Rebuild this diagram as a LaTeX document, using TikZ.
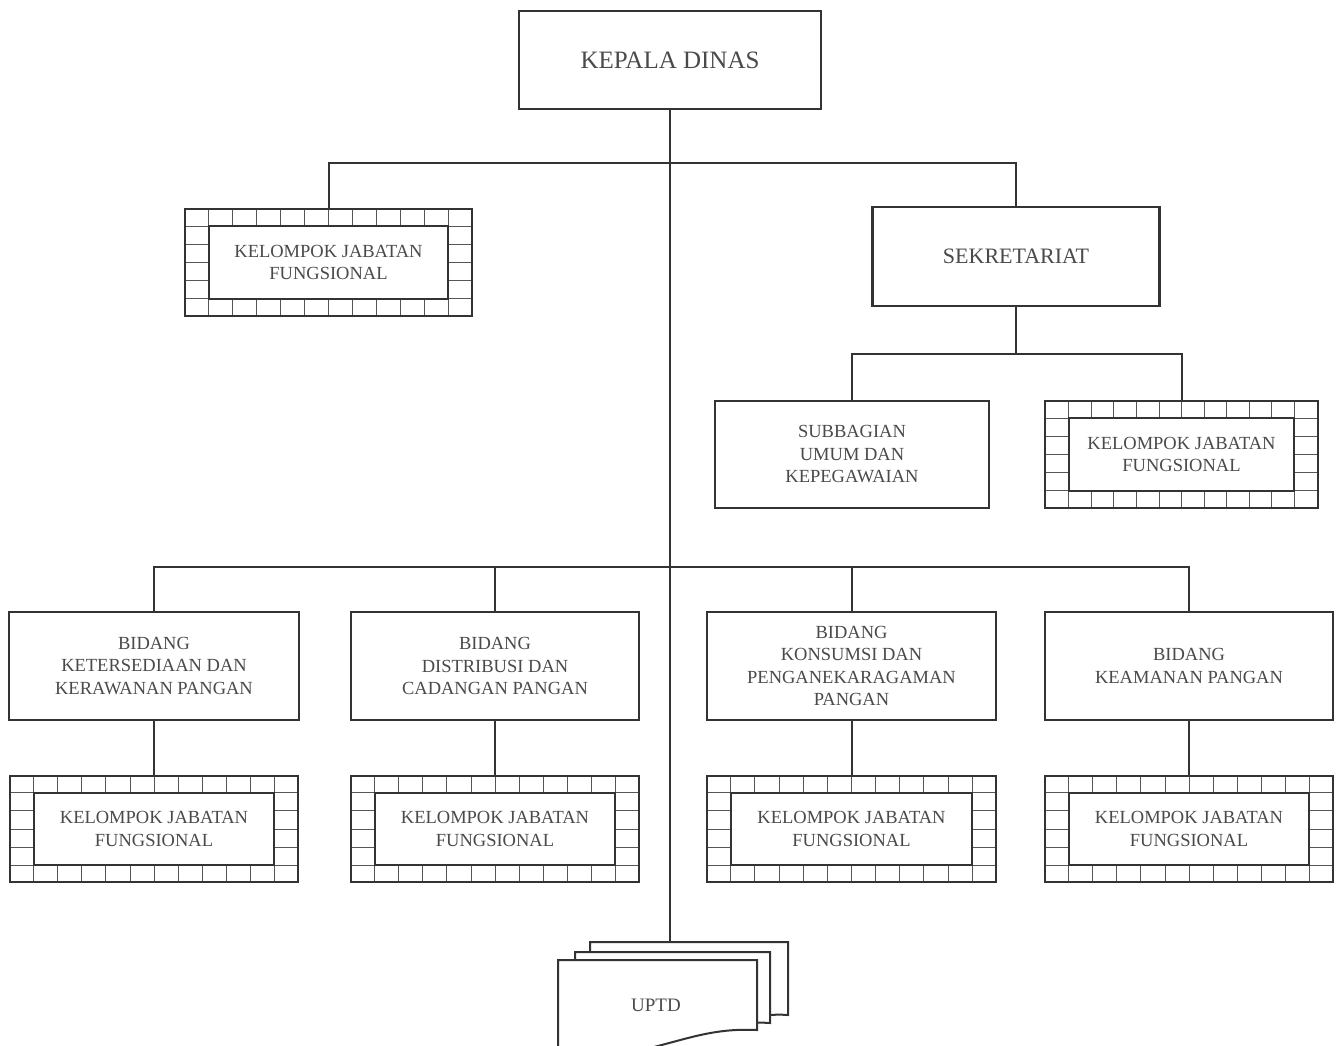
\documentclass[tikz,border=0pt]{standalone}
\usepackage{fontspec}
\setmainfont{Liberation Serif}
\usetikzlibrary{calc}
\definecolor{linec}{HTML}{333333}
\definecolor{textc}{HTML}{4A4A4A}
\definecolor{cellc}{HTML}{555555}
\tikzset{
  box/.style={draw=linec, line width=2.2pt, fill=white, text=textc, align=center, inner sep=0pt,
    font=\fontsize{18.5}{22.5}\selectfont},
  outerbox/.style={fill=white, inner sep=0pt, minimum height=106pt},
  innerbox/.style={fill=white, text=textc, align=center, inner sep=0pt,
    minimum height=72pt, font=\fontsize{18.5}{22.5}\selectfont},
  cell/.style={draw=cellc, line width=0.9pt},
  frame/.style={draw=linec, line width=2pt},
  conn/.style={draw=linec, line width=2pt},
  doc/.style={draw=linec, line width=2pt, fill=white},
}
\newcommand{\kjfbox}[3]{%
  \node[outerbox, minimum width=#3] (#1) at #2 {};
  \node[innerbox, minimum width=#3-48pt] (#1in) at #2 {KELOMPOK JABATAN\\FUNGSIONAL};
  \foreach \i in {0,...,10}{
    \draw[cell] ($(#1in.north west)!\i/10!(#1in.north east)$) coordinate (tmpa) -- (tmpa |- #1.north);
    \draw[cell] ($(#1in.south west)!\i/10!(#1in.south east)$) coordinate (tmpb) -- (tmpb |- #1.south);
  }
  \foreach \j in {0,...,4}{
    \draw[cell] ($(#1in.north west)!\j/4!(#1in.south west)$) coordinate (tmpc) -- (tmpc -| #1.west);
    \draw[cell] ($(#1in.north east)!\j/4!(#1in.south east)$) coordinate (tmpd) -- (tmpd -| #1.east);
  }
  \draw[frame] (#1.north west) rectangle (#1.south east);
  \draw[frame] (#1in.north west) rectangle (#1in.south east);
}
\begin{document}
\begin{tikzpicture}[x=1pt,y=-1pt]
\useasboundingbox (0,0) rectangle (1338,1046);
\clip (0,0) rectangle (1338,1046);
\fill[white] (0,0) rectangle (1338,1046);

% coordinates for bars
\coordinate (bar1) at (670,163);
\coordinate (bar2) at (1016,354);
\coordinate (bar3) at (670,567);
\coordinate (uptdtop) at (670,942);

% boxes
\node[box, minimum width=302pt, minimum height=98pt, font=\fontsize{25}{30}\selectfont] (kepala) at (670,60) {KEPALA DINAS};
\node[box, minimum width=287pt, minimum height=99pt, font=\fontsize{22}{26}\selectfont] (sek) at (1016,256.5) {SEKRETARIAT};
\node[box, minimum width=274pt, minimum height=107pt] (sub) at (852,454.5) {SUBBAGIAN\\UMUM DAN\\KEPEGAWAIAN};

\node[box, minimum width=290pt, minimum height=108pt] (b1) at (154,666) {BIDANG\\KETERSEDIAAN DAN\\KERAWANAN PANGAN};
\node[box, minimum width=288pt, minimum height=108pt] (b2) at (495,666) {BIDANG\\DISTRIBUSI DAN\\CADANGAN PANGAN};
\node[box, minimum width=289pt, minimum height=108pt] (b3) at (851.5,666) {BIDANG\\KONSUMSI DAN\\PENGANEKARAGAMAN\\PANGAN};
\node[box, minimum width=288pt, minimum height=108pt] (b4) at (1189,666) {BIDANG\\KEAMANAN PANGAN};

% KJF boxes
\kjfbox{kjf0}{(328.5,262.5)}{287pt}
\kjfbox{kjf1}{(1181.5,454.5)}{273pt}
\kjfbox{k1}{(154,829)}{288pt}
\kjfbox{k2}{(495,829)}{288pt}
\kjfbox{k3}{(851.5,829)}{289pt}
\kjfbox{k4}{(1189,829)}{288pt}

% connectors
\draw[conn] (kepala.south) -- (uptdtop);
\draw[conn] (kjf0.north) -- (kjf0.north |- bar1) -- (bar1 -| sek.north) -- (sek.north);
\draw[conn] (sek.south) -- (bar2);
\draw[conn] (sub.north) -- (sub.north |- bar2) -- (bar2 -| kjf1.north) -- (kjf1.north);
\draw[conn] (b1.north) -- (b1.north |- bar3) -- (bar3 -| b4.north) -- (b4.north);
\draw[conn] (b2.north) -- (b2.north |- bar3);
\draw[conn] (b3.north) -- (b3.north |- bar3);
\draw[conn] (b1.south) -- (k1.north);
\draw[conn] (b2.south) -- (k2.north);
\draw[conn] (b3.south) -- (k3.north);
\draw[conn] (b4.south) -- (k4.north);

% UPTD multi-document
\filldraw[doc] (590,942) -- (788,942) -- (788,1015)
  .. controls (750,1012) and (700,1030) .. (650,1038) .. controls (620,1043) and (600,1043) .. (590,1042) -- cycle;
\filldraw[doc] (575,952) -- (770,952) -- (770,1023)
  .. controls (730,1020) and (690,1038) .. (640,1046) .. controls (610,1050) and (590,1050) .. (575,1049) -- cycle;
\filldraw[doc] (558,960) -- (757,960) -- (757,1030)
  .. controls (715,1028) and (690,1038) .. (650,1048) .. controls (615,1056) and (580,1058) .. (558,1056) -- cycle;
\node[text=textc, font=\fontsize{19}{22}\selectfont, inner sep=0pt] (uptd) at (656,1005) {UPTD};
\end{tikzpicture}
\end{document}
